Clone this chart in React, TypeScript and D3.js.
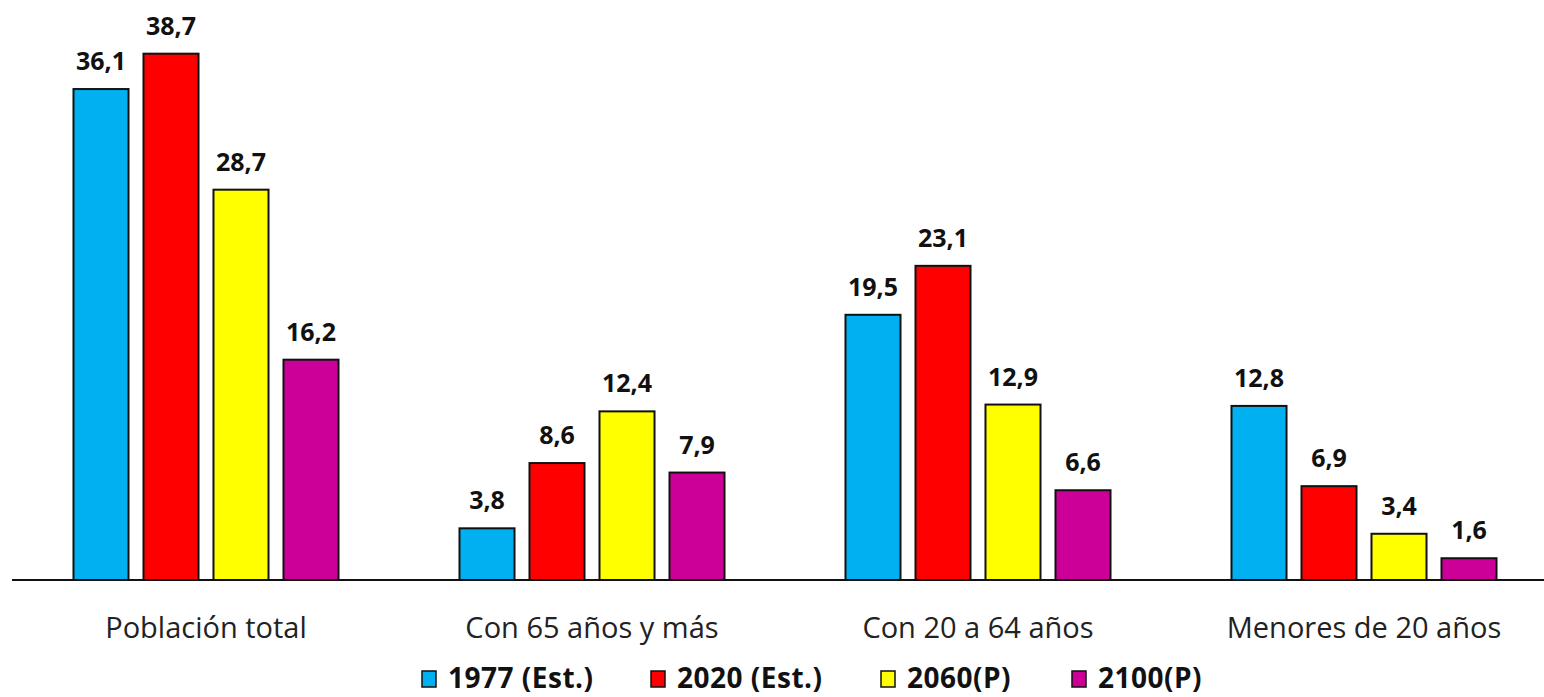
import React from "react";
import * as d3 from "d3";

const categories = ["Población total", "Con 65 años y más", "Con 20 a 64 años", "Menores de 20 años"];
const seriesNames = ["1977 (Est.)", "2020 (Est.)", "2060(P)", "2100(P)"];
const seriesColors = ["#00B0F0", "#FF0000", "#FFFF00", "#CC0099"];
const s1977 = [36.1, 3.8, 19.5, 12.8];
const s2020 = [38.7, 8.6, 23.1, 6.9];
const s2060 = [28.7, 12.4, 12.9, 3.4];
const s2100 = [16.2, 7.9, 6.6, 1.6];
const seriesValues = [s1977, s2020, s2060, s2100];

const W = 1544;
const H = 697;
const fmt = (v: number) => v.toFixed(1).replace(".", ",");

export default function App() {
  const x0 = d3.scaleBand<string>().domain(categories).range([13, 1557]).padding(0);
  const x1 = d3
    .scaleBand<string>()
    .domain(seriesNames)
    .range([-140, 140])
    .paddingInner(0.214)
    .paddingOuter(0.107);
  const y = d3.scaleLinear().domain([0, 40]).range([580, 36]);
  const font = "'Open Sans', sans-serif";

  const legendX = [422, 651, 881, 1072];

  return (
    <svg
      width={W}
      height={H}
      style={{ position: "absolute", left: 0, top: 0, background: "#fff" }}
    >
      <rect x={0} y={0} width={W} height={H} fill="#fff" />
      {categories.map((c, ci) => {
        const cx = (x0(c) as number) + x0.bandwidth() / 2;
        return (
          <g key={c}>
            {seriesNames.map((s, si) => {
              const v = seriesValues[si][ci];
              const bx = cx + (x1(s) as number);
              const bw = x1.bandwidth();
              return (
                <g key={s}>
                  <rect
                    x={bx}
                    y={y(v)}
                    width={bw}
                    height={y(0) - y(v)}
                    fill={seriesColors[si]}
                    stroke="#111"
                    strokeWidth={2}
                  />
                  <text
                    x={bx + bw / 2}
                    y={y(v) - 19}
                    textAnchor="middle"
                    fontFamily={font}
                    fontWeight="bold"
                    fontSize={25}
                    fill="#111"
                  >
                    {fmt(v)}
                  </text>
                </g>
              );
            })}
            <text
              x={cx}
              y={638}
              textAnchor="middle"
              fontFamily={font}
              fontSize={29}
              fill="#222"
            >
              {c}
            </text>
          </g>
        );
      })}
      <line x1={12} x2={W} y1={y(0)} y2={y(0)} stroke="#111" strokeWidth={2} />
      {seriesNames.map((s, si) => (
        <g key={s}>
          <rect
            x={legendX[si]}
            y={671}
            width={14}
            height={16}
            fill={seriesColors[si]}
            stroke="#111"
            strokeWidth={1.5}
          />
          <text
            x={legendX[si] + 26}
            y={688}
            fontFamily={font}
            fontWeight="bold"
            fontSize={28}
            letterSpacing={0.5}
            fill="#111"
          >
            {s}
          </text>
        </g>
      ))}
    </svg>
  );
}
